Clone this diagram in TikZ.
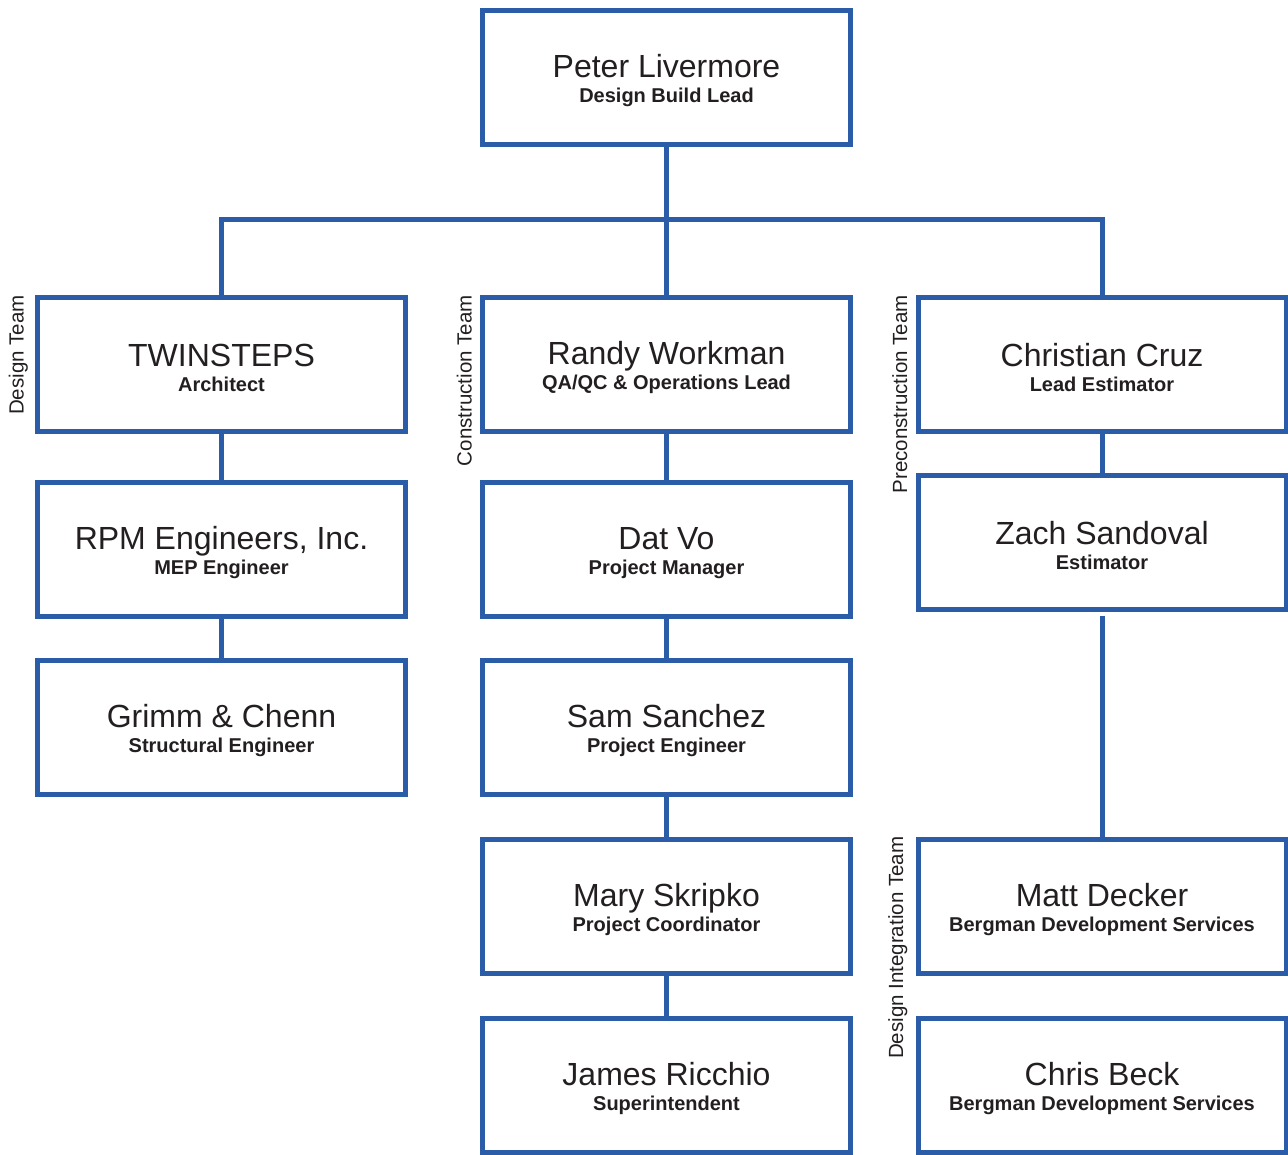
\documentclass[tikz,border=0pt]{standalone}
\usepackage{fontspec}
\setmainfont{Liberation Sans}
\usepackage{tikz}
\definecolor{orgblue}{HTML}{2A5CA8}
\definecolor{orgtext}{HTML}{231F20}
\newcommand{\pname}[1]{{\fontsize{32}{25}\selectfont\rule{0pt}{29.5pt}#1}}
\newcommand{\prole}[1]{{\bfseries #1}}

\begin{document}
\begin{tikzpicture}[x=1pt, y=-1pt,
    box/.style={draw=orgblue, line width=5pt, fill=white, minimum width=368pt, minimum height=134pt, align=center, text=orgtext, font=\fontsize{20}{25}\selectfont},
    link/.style={draw=orgblue, line width=5pt},
    team/.style={rotate=90, anchor=south east, inner sep=0pt, text=orgtext, font=\fontsize{20.5}{24}\selectfont}]
    \useasboundingbox (0,0) rectangle (1288,1155);
    \node[box] (peter) at (666.5,77.5) {\pname{Peter Livermore}\\\prole{Design Build Lead}};
    \node[box] (twin) at (221.5,364.5) {\pname{TWINSTEPS}\\\prole{Architect}};
    \node[box] (rpm) at (221.5,549) {\pname{RPM Engineers, Inc.}\\\prole{MEP Engineer}};
    \node[box] (grimm) at (221.5,727.5) {\pname{Grimm \& Chenn}\\\prole{Structural Engineer}};
    \node[box] (randy) at (666.5,364.5) {\pname{Randy Workman}\\\prole{QA/QC \& Operations Lead}};
    \node[box] (dat) at (666.5,549) {\pname{Dat Vo}\\\prole{Project Manager}};
    \node[box] (sam) at (666.5,727.5) {\pname{Sam Sanchez}\\\prole{Project Engineer}};
    \node[box] (mary) at (666.5,906) {\pname{Mary Skripko}\\\prole{Project Coordinator}};
    \node[box] (james) at (666.5,1085) {\pname{James Ricchio}\\\prole{Superintendent}};
    \node[box] (cruz) at (1102,364.5) {\pname{Christian Cruz}\\\prole{Lead Estimator}};
    \node[box] (zach) at (1102,542) {\pname{Zach Sandoval}\\\prole{Estimator}};
    \node[box] (matt) at (1102,906) {\pname{Matt Decker}\\\prole{Bergman Development Services}};
    \node[box] (beck) at (1102,1085) {\pname{Chris Beck}\\\prole{Bergman Development Services}};
    \node[team] (designteam) at ([xshift=-7pt]twin.north west) {Design Team};
    \node[team] (consteam) at ([xshift=-8pt]randy.north west) {Construction Team};
    \node[team] (preteam) at ([xshift=-8pt]cruz.north west) {Preconstruction Team};
    \node[team] (intteam) at ([xshift=-8pt]matt.north west) {Design Integration Team};
    \coordinate (split) at (666.5,220);
    \draw[link] (twin) |- (split) -| (cruz);
    \foreach \a/\b in {peter/randy, twin/rpm, rpm/grimm, randy/dat, dat/sam, sam/mary, mary/james, cruz/zach}
        \draw[link] (\a) -- (\b);
    \draw[link, shorten <=4pt] (zach) -- (matt);
\end{tikzpicture}
\end{document}
